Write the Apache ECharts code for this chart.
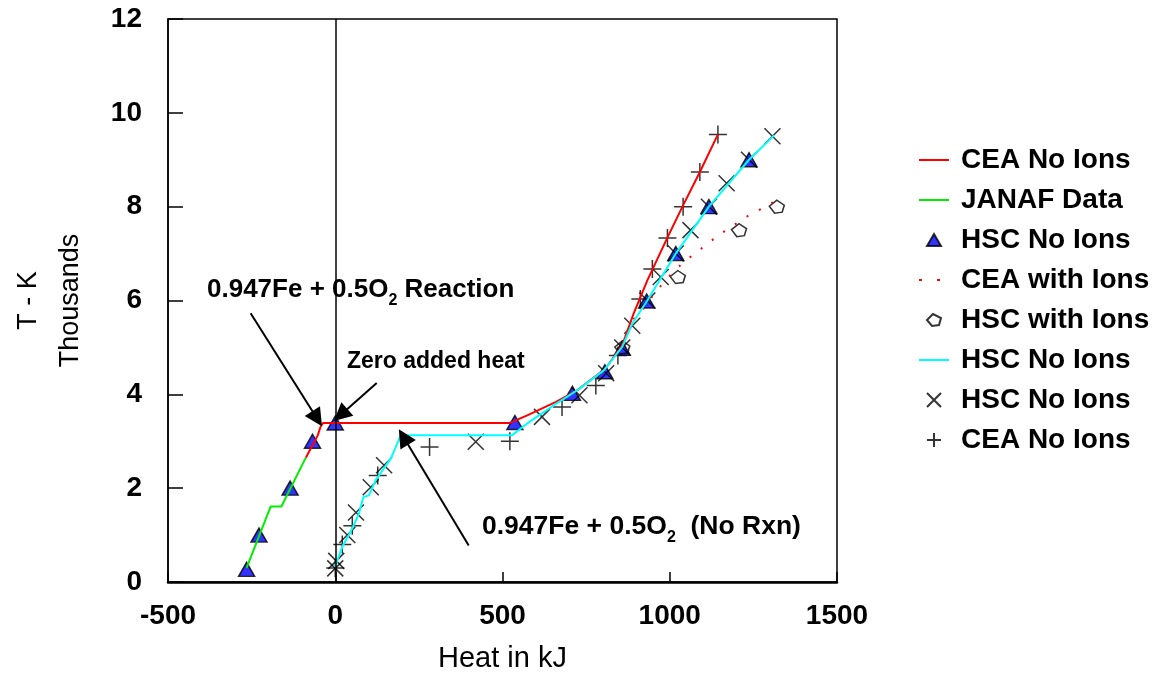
<!DOCTYPE html>
<html>
<head>
<meta charset="utf-8">
<script src="https://cdn.jsdelivr.net/npm/echarts@6/dist/echarts.min.js"></script>
<style>
  html, body { margin: 0; padding: 0; background: #fff; }
  #chart { width: 1170px; height: 684px; }
</style>
</head>
<body>
<div id="chart"></div>
<script>
// x = heat in kJ, y = T in thousands of K
const xTicks = [-500, 0, 500, 1000, 1500]
const yTicks = [0, 2, 4, 6, 8, 10, 12]

const ceaNoIonsLine = [[-88, 2.65], [-52, 3.13], [-44, 3.31], [-36, 3.39], [522, 3.39], [574, 3.55], [660, 3.84], [724, 4.09],
  [808, 4.55], [858, 5.05], [892, 5.72], [933, 6.43], [993, 7.34], [1038, 8.0], [1090, 8.74], [1144, 9.54]]
const janafData = [[-265, 0.3], [-193, 1.61], [-161, 1.61], [-88, 2.65]]
const hscNoIonsTri = [[-265, 0.27], [-228, 1.0], [-135, 2.0], [-68, 3.0], [0, 3.39], [537, 3.4], [709, 4.02],
  [806, 4.48], [858, 4.98], [931, 5.99], [1018, 7.0], [1117, 8.0], [1237, 9.0]]
const ceaWithIons = [[858, 5.05], [892, 5.6], [918, 5.79], [948, 6.09], [983, 6.4], [1020, 6.68], [1060, 6.92],
  [1102, 7.15], [1144, 7.38], [1190, 7.6], [1233, 7.8], [1281, 7.98], [1329, 8.17]]
const hscWithIons = [[858, 5.0], [1024, 6.5], [1207, 7.5], [1320, 8.0]]
const hscNoIonsLine = [[-1, 0.32], [21, 0.75], [46, 1.07], [71, 1.46], [84, 1.81], [101, 1.85], [121, 2.17], [166, 2.63],
  [196, 3.13], [529, 3.13], [574, 3.38], [654, 3.77], [724, 4.09], [803, 4.51], [858, 5.01], [888, 5.51],
  [933, 6.0], [1018, 7.0], [1117, 8.0], [1237, 9.0], [1312, 9.52]]
const hscNoIonsX = [[0, 0.29], [3, 0.45], [36, 1.0], [62, 1.48], [106, 2.02], [146, 2.49], [420, 2.99], [618, 3.52],
  [730, 3.98], [810, 4.45], [858, 5.0], [888, 5.46], [933, 6.0], [973, 6.5], [1018, 7.0], [1062, 7.5],
  [1117, 8.0], [1170, 8.5], [1237, 9.0], [1307, 9.5]]
const ceaNoIonsPlus = [[0, 0.3], [21, 0.8], [51, 1.2], [127, 2.27], [282, 2.88], [522, 3.0], [678, 3.73], [779, 4.19],
  [845, 4.83], [912, 6.03], [948, 6.67], [993, 7.33], [1040, 8.0], [1090, 8.74], [1144, 9.54]]

// annotation arrows, [from, to] in data units
const arrowReaction = [[-253, 5.73], [-54, 3.48]]
const arrowZero = [[124, 4.24], [16, 3.56]]
const arrowNoRxn = [[399, 0.78], [204, 3.09]]

const boldFont = 'Liberation Sans'
const crossPath = 'path://M0,0L10,10M10,0L0,10'
const plusPath = 'path://M5,0L5,10M0,5L10,5'
const diamondPath = 'path://M0,6L7,0L14,5L12,12L5,13Z'

// legend icons drawn in a 30x14 box (corner points keep the box size)
const box = 'M0,0L0.01,0M30,14L30.01,14'
const iconLine = 'path://' + box + 'M0,6L30,6L30,8L0,8Z'
const iconDots = 'path://' + box + 'M0,6L3,6L3,8L0,8ZM18,6L21,6L21,8L18,8Z'
const iconTri = 'path://' + box + 'M8,13L15,1L22,13Z'
const iconDiamond = 'path://' + box + 'M8,7L14,1L22,5L20,12L13,13Z'
const iconCross = 'path://' + box + 'M8,0L22,14M22,0L8,14'
const iconPlus = 'path://' + box + 'M15,0L15,14M8,7L22,7'

const arrowLine = (pts) => [{ coord: pts[0] }, { coord: pts[1] }]

const richLabel = (size) => ({
  b: { fontSize: size, fontWeight: 'bold', fontFamily: boldFont, fill: '#000', lineHeight: 30, verticalAlign: 'bottom' },
  s: { fontSize: 16, fontWeight: 'bold', fontFamily: boldFont, fill: '#000', lineHeight: 30, verticalAlign: 'bottom', padding: [0, 0, -6, 0] }
})

const chart = echarts.init(document.getElementById('chart'))
const option = {
  backgroundColor: '#fff',
  animation: false,
  textStyle: { fontFamily: boldFont },
  grid: {
    left: 168, right: 333, top: 19, bottom: 102,
    show: true, borderColor: '#000', borderWidth: 1.5
  },
  legend: {
    orient: 'vertical',
    left: 913,
    top: 141,
    itemWidth: 30,
    itemHeight: 14,
    itemGap: 12,
    formatter: name => name.trim(),
    textStyle: { fontSize: 28, fontWeight: 'bold', color: '#000', padding: [0, 0, 0, 7], lineHeight: 28 },
    data: [
      { name: 'CEA No Ions', icon: iconLine },
      { name: 'JANAF Data', icon: iconLine },
      { name: 'HSC No Ions', icon: iconTri },
      { name: 'CEA with Ions', icon: iconDots },
      { name: 'HSC with Ions', icon: iconDiamond },
      { name: 'HSC No Ions ', icon: iconLine },
      { name: 'HSC No Ions  ', icon: iconCross },
      { name: 'CEA No Ions ', icon: iconPlus }
    ]
  },
  xAxis: {
    type: 'value',
    min: -500, max: 1500, interval: 500,
    name: 'Heat in kJ',
    nameLocation: 'middle',
    nameGap: 62,
    nameTextStyle: { fontSize: 29, color: '#000' },
    axisLine: { onZero: false, lineStyle: { color: '#000', width: 2.5 } },
    axisTick: { inside: true, length: 10, lineStyle: { color: '#000', width: 1.5 } },
    axisLabel: { fontSize: 28, fontWeight: 'bold', color: '#000', margin: 20,
      formatter: v => String(v), customValues: xTicks },
    splitLine: { show: false }
  },
  yAxis: {
    type: 'value',
    min: 0, max: 12, interval: 2,
    name: 'T - K\nThousands',
    nameLocation: 'middle',
    nameRotate: 90,
    nameGap: 76,
    nameTextStyle: { fontSize: 27, color: '#000', lineHeight: 42 },
    axisLine: { onZero: false, lineStyle: { color: '#000', width: 1.5 } },
    axisTick: { inside: true, length: 15, lineStyle: { color: '#000', width: 1.5 } },
    axisLabel: { fontSize: 28, fontWeight: 'bold', color: '#000', margin: 26,
      formatter: v => String(v), customValues: yTicks },
    splitLine: { show: false }
  },
  series: [
    {
      name: 'CEA No Ions', type: 'line', symbol: 'none', data: ceaNoIonsLine,
      lineStyle: { color: '#ff0000', width: 2 }, itemStyle: { color: '#ff0000' },
      markLine: {
        silent: true, symbol: 'none', label: { show: false },
        lineStyle: { color: '#000', width: 1.5, type: 'solid' },
        data: [{ xAxis: 0 }]
      }
    },
    {
      name: 'JANAF Data', type: 'line', symbol: 'none', data: janafData,
      lineStyle: { color: '#00ee00', width: 2 }, itemStyle: { color: '#00ee00' }
    },
    {
      name: 'CEA with Ions', type: 'line', symbol: 'none', data: ceaWithIons,
      lineStyle: { color: '#ff0000', width: 2, type: [2, 12] }, itemStyle: { color: '#ff0000' }
    },
    {
      name: 'HSC No Ions ', type: 'line', symbol: 'none', data: hscNoIonsLine,
      lineStyle: { color: '#00ffff', width: 2 }, itemStyle: { color: '#00ffff' },
      markLine: {
        silent: true, symbol: ['none', 'triangle'], symbolSize: 18, label: { show: false },
        lineStyle: { color: '#000', width: 2, type: 'solid' },
        itemStyle: { color: '#000' },
        data: [arrowLine(arrowReaction), arrowLine(arrowZero), arrowLine(arrowNoRxn)]
      }
    },
    {
      name: 'HSC No Ions', type: 'scatter', symbol: 'triangle', symbolSize: [16, 14], data: hscNoIonsTri,
      itemStyle: { color: '#0000ff', borderColor: '#000', borderWidth: 1.5 }
    },
    {
      name: 'HSC with Ions', type: 'scatter', symbol: diamondPath, symbolSize: [15, 13], data: hscWithIons,
      itemStyle: { color: 'rgba(0,0,0,0)', borderColor: '#000', borderWidth: 1.5 }
    },
    {
      name: 'HSC No Ions  ', type: 'scatter', symbol: crossPath, symbolSize: 16, data: hscNoIonsX,
      itemStyle: { color: 'rgba(0,0,0,0)', borderColor: '#000', borderWidth: 1.5 }
    },
    {
      name: 'CEA No Ions ', type: 'scatter', symbol: plusPath, symbolSize: 18, data: ceaNoIonsPlus,
      itemStyle: { color: 'rgba(0,0,0,0)', borderColor: '#000', borderWidth: 1.5 }
    }
  ],
  graphic: [
    {
      type: 'text', left: 207, top: 277,
      style: { text: '{b|0.947Fe + 0.5O}{s|2}{b| Reaction}', rich: richLabel(26) }
    },
    {
      type: 'text', left: 347, top: 350,
      style: { text: 'Zero added heat', font: 'bold 23px "Liberation Sans"', fill: '#000' }
    },
    {
      type: 'text', left: 482, top: 513,
      style: { text: '{b|0.947Fe + 0.5O}{s|2}{b|  (No Rxn)}', rich: richLabel(26.5) }
    }
  ]
}
chart.setOption(option)
</script>
</body>
</html>
